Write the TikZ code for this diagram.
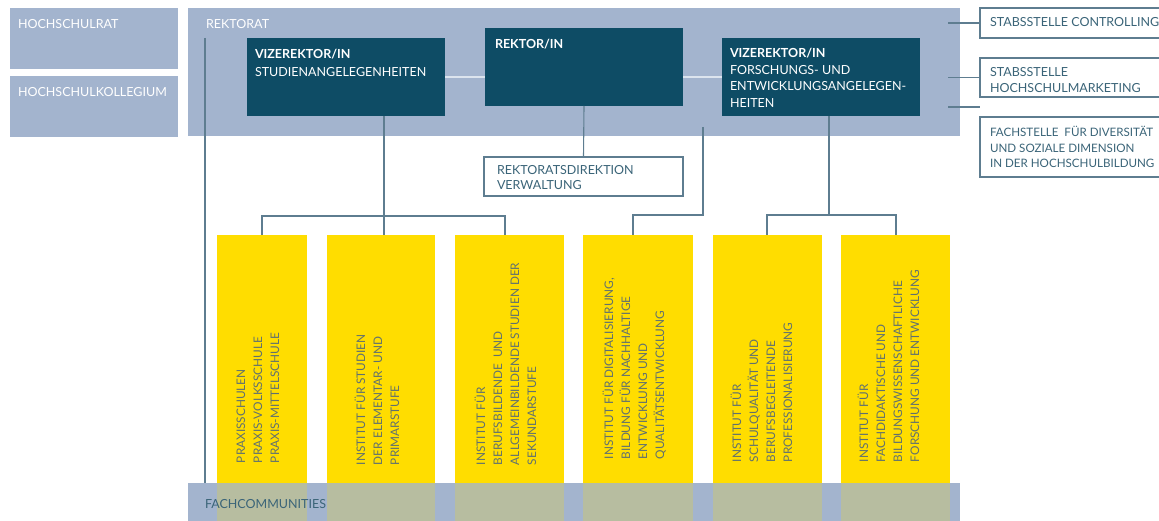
\documentclass[tikz,border=0pt]{standalone}
\usepackage{fontspec}
\setmainfont{Lato}
\definecolor{lblue}{RGB}{163,180,206}
\definecolor{dteal}{RGB}{14,76,101}
\definecolor{yel}{RGB}{255,221,0}
\definecolor{lnc}{RGB}{94,125,144}
\definecolor{tteal}{RGB}{58,100,120}
\definecolor{ytxt}{RGB}{96,112,112}
\definecolor{lconn}{RGB}{220,228,238}
\newcommand{\fl}{\rule{0pt}{13pt}}
\begin{document}
\begin{tikzpicture}[x=1pt,y=-1pt,
  box/.style={inner sep=0pt, outer sep=0pt, anchor=north west},
  lbox/.style={box, fill=lblue},
  dbox/.style={box, fill=dteal},
  wbox/.style={box, fill=white, draw=lnc, line width=1.1pt},
  ybox/.style={box, fill=yel},
  txt/.style={inner sep=0pt, outer sep=0pt, anchor=north west, align=left,
    font=\fontsize{12.5}{16.5}\selectfont},
  wtxt/.style={txt, text=white},
  ttxt/.style={txt, text=tteal},
  ytext/.style={txt, text=ytxt, rotate=90, font=\fontsize{11.8}{17}\selectfont},
  conn/.style={draw=lnc, line width=1.1pt},
  lightconn/.style={draw=lconn, line width=1.3pt}
]
\useasboundingbox (0,0) rectangle (1159,521);
\clip (0,0) rectangle (1159,521);

% left boxes
\node[lbox, minimum width=168pt, minimum height=61pt] (rat) at (10,8) {};
\node[wtxt] (ratt) at (18,16) {\fl HOCHSCHULRAT};
\node[lbox, minimum width=168pt, minimum height=61pt] (koll) at (10,76) {};
\node[wtxt] (kollt) at (18,84) {\fl HOCHSCHULKOLLEGIUM};

% Rektorat
\node[lbox, minimum width=772pt, minimum height=128pt] (rkt) at (188,8) {};
\node[wtxt] (rktt) at (206,16) {\fl REKTORAT};

\node[dbox, minimum width=198pt, minimum height=78pt] (vs) at (247,38) {};
\node[wtxt, font=\fontsize{12.5}{18}\selectfont] (vst) at (255,46) {\fl\textbf{VIZEREKTOR/IN}\\STUDIENANGELEGENHEITEN};
\node[dbox, minimum width=198pt, minimum height=78pt] (rk) at (485,28) {};
\node[wtxt] (rkt2) at (495,36) {\fl\textbf{REKTOR/IN}};
\node[dbox, minimum width=198pt, minimum height=78pt] (vf) at (722,38) {};
\node[wtxt] (vft) at (730,45) {\fl\textbf{VIZEREKTOR/IN}\\FORSCHUNGS- UND\\ENTWICKLUNGSANGELEGEN-\\HEITEN};

\draw[lightconn] (vs.east) -- (vs.east -| rk.west);
\draw[lightconn] (rk.east |- vf.west) -- (vf.west);

% Rektoratsdirektion
\node[wbox, minimum width=199pt, minimum height=39pt] (rd) at (484,157) {};
\node[ttxt, font=\fontsize{12.5}{14.5}\selectfont] (rdt) at (497,162) {\fl REKTORATSDIREKTION\\VERWALTUNG};
\draw[conn] (rk.south) -- (rd.north);

% right staff units
\node[wbox, minimum width=200pt, minimum height=30pt] (sc) at (980,8) {};
\node[ttxt] (sct) at (990,14) {\fl STABSSTELLE CONTROLLING};
\node[wbox, minimum width=200pt, minimum height=39pt] (sm) at (980,58) {};
\node[ttxt, font=\fontsize{12.5}{16}\selectfont] (smt) at (990,64) {\fl STABSSTELLE\\HOCHSCHULMARKETING};
\node[wbox, minimum width=200pt, minimum height=60pt] (fs) at (980,117) {};
\node[ttxt, font=\fontsize{11.6}{15.5}\selectfont] (fst) at (990,124) {\fl FACHSTELLE\hspace{0.5em}FÜR DIVERSITÄT\\UND SOZIALE DIMENSION\\IN DER HOCHSCHULBILDUNG};
\draw[conn] (sc.west -| 948,0) -- (sc.west);
\draw[conn] (sm.west -| 948,0) -- (sm.west);
\draw[conn] ([yshift=10pt]fs.north west -| 948,0) -- ([yshift=10pt]fs.north west);

% Fachcommunities band
\node[lbox, minimum width=772pt, minimum height=40pt] (fc) at (188,483) {};

% yellow institutes
\node[ybox, minimum width=90pt, minimum height=290pt] (y1) at (217,235) {};
\node[ybox, minimum width=108pt, minimum height=290pt] (y2) at (327,235) {};
\node[ybox, minimum width=109pt, minimum height=290pt] (y3) at (455,235) {};
\node[ybox, minimum width=110pt, minimum height=290pt] (y4) at (583,235) {};
\node[ybox, minimum width=109pt, minimum height=290pt] (y5) at (713,235) {};
\node[ybox, minimum width=109pt, minimum height=290pt] (y6) at (841,235) {};

\fill[lblue, opacity=0.78] (fc.north west) rectangle (fc.south east);
\node[ttxt, anchor=west] (fct) at (205,504) {FACHCOMMUNITIES};

\node[ytext] (y1t) at (232,463) {\fl PRAXISSCHULEN\\PRAXIS-VOLKSSCHULE\\PRAXIS-MITTELSCHULE};
\node[ytext] (y2t) at (352,465) {\fl INSTITUT FÜR STUDIEN\\DER ELEMENTAR- UND\\PRIMARSTUFE};
\node[ytext] (y3t) at (472,465) {\fl INSTITUT FÜR\\BERUFSBILDENDE \ UND\\ALLGEMEINBILDENDE STUDIEN DER\\SEKUNDARSTUFE};
\node[ytext] (y4t) at (600,459) {\fl INSTITUT FÜR DIGITALISIERUNG,\\BILDUNG FÜR NACHHALTIGE\\ENTWICKLUNG UND\\QUALITÄTSENTWICKLUNG};
\node[ytext] (y5t) at (728,462) {\fl INSTITUT FÜR\\SCHULQUALITÄT UND\\BERUFSBEGLEITENDE\\PROFESSIONALISIERUNG};
\node[ytext] (y6t) at (855,462) {\fl INSTITUT FÜR\\FACHDIDAKTISCHE UND\\BILDUNGSWISSENSCHAFTLICHE\\FORSCHUNG UND ENTWICKLUNG};

% connectors
\coordinate (lefttop) at (205,38);
\draw[conn] (lefttop) -- (lefttop |- fc.north);

\coordinate (bus1) at (384,216);
\draw[conn] ([xshift=137pt]vs.south west) -- (bus1);
\draw[conn] ([xshift=45pt]y1.north west) |- (bus1) -| ([xshift=50pt]y3.north west);
\draw[conn] (bus1) -- (bus1 |- y2.north);

\coordinate (rlink) at (703,127);
\draw[conn] (rlink) |- (668,215) -| ([xshift=50pt]y4.north west);

\coordinate (bus3) at (829,215);
\draw[conn] ([xshift=107pt]vf.south west) -- (bus3);
\draw[conn] ([xshift=54pt]y5.north west) |- (bus3) -| ([xshift=55pt]y6.north west);
\end{tikzpicture}
\end{document}
